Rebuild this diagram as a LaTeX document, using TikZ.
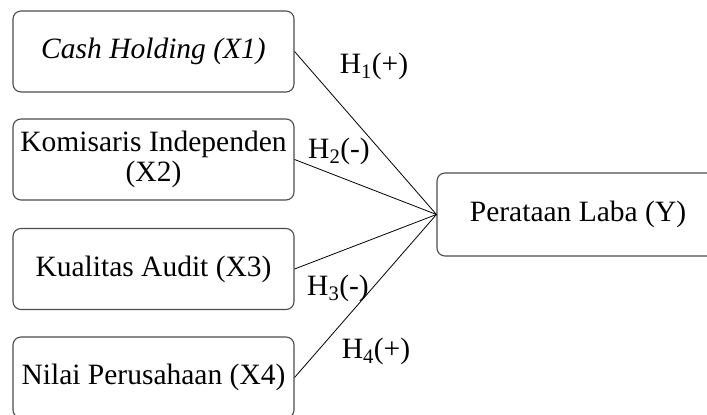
\documentclass[tikz,border=0pt]{standalone}
\usepackage{fontspec}
\setmainfont{Liberation Serif}
\begin{document}
\begin{tikzpicture}[x=1pt,y=-1pt,
  box/.style={draw=black!70, line width=1.1pt, rounded corners=8pt, minimum width=281pt, minimum height=81pt, inner sep=0pt, align=center, font=\fontsize{29.5}{30}\selectfont},
  ybox/.style={box, minimum width=282pt, minimum height=83pt},
  hlab/.style={anchor=base, inner sep=0pt, font=\fontsize{29.5}{30}\selectfont},
  conn/.style={draw=black, line width=0.8pt}]
\useasboundingbox (0,0) rectangle (707,415);
\clip (0,0) rectangle (707,415);
\node[box] (x1) at (153.5,51.5) {\itshape Cash Holding (X1)};
\node[box] (x2) at (153.5,159.5) {Komisaris Independen\\(X2)};
\node[box] (x3) at (153.5,269) {Kualitas Audit (X3)};
\node[box] (x4) at (153.5,377.5) {Nilai Perusahaan (X4)};
\node[ybox] (y) at (578,214.5) {Perataan Laba (Y)};
\draw[conn] (x1.east) -- (y.west);
\draw[conn] (x2.east) -- (y.west);
\draw[conn] (x3.east) -- (y.west);
\draw[conn] (x4.east) -- (y.west);
\node[hlab] (h1) at (374,73) {H\textsubscript{1}(+)};
\node[hlab] (h2) at (339,158) {H\textsubscript{2}(-)};
\node[hlab] (h3) at (338,295) {H\textsubscript{3}(-)};
\node[hlab] (h4) at (376,358) {H\textsubscript{4}(+)};
\end{tikzpicture}
\end{document}
